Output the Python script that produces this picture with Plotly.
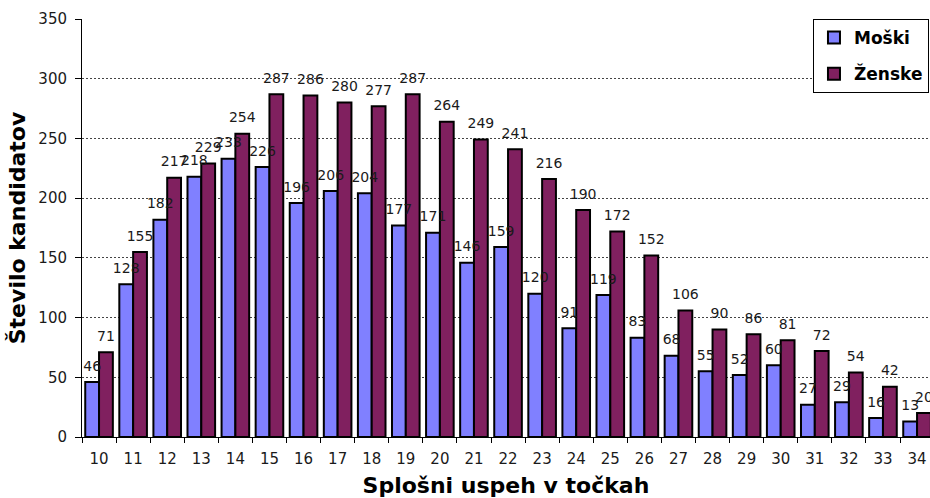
import plotly.graph_objects as go

categories = ["10", "11", "12", "13", "14", "15", "16", "17", "18", "19", "20", "21",
              "22", "23", "24", "25", "26", "27", "28", "29", "30", "31", "32", "33", "34"]
moski = [46, 128, 182, 218, 233, 226, 196, 206, 204, 177, 171, 146, 159, 120, 91,
         119, 83, 68, 55, 52, 60, 27, 29, 16, 13]
zenske = [71, 155, 217, 229, 254, 287, 286, 280, 277, 287, 264, 249, 241, 216, 190,
          172, 152, 106, 90, 86, 81, 72, 54, 42, 20]
y_ticks = [0, 50, 100, 150, 200, 250, 300, 350]

C_M = "#8080FF"
C_Z = "#80205F"
BARGAP = 0.19
TXT = "#1a1a1a"

fig = go.Figure()
for name, vals, col, grp in [("Moški", moski, C_M, "m"), ("Ženske", zenske, C_Z, "z")]:
    fig.add_trace(go.Bar(
        x=categories, y=vals, name=name, offsetgroup=grp, legendgroup=grp,
        marker=dict(color=col, line=dict(color="black", width=2)),
        hoverinfo="x+y+name",
    ))
for vals, grp in [(moski, "m"), (zenske, "z")]:
    fig.add_trace(go.Scatter(
        x=categories, y=vals, mode="markers+text", offsetgroup=grp,
        text=[str(v) for v in vals], textposition="top center",
        marker=dict(size=11, opacity=0), showlegend=False, cliponaxis=False,
        textfont=dict(family="DejaVu Sans", size=14, color=TXT),
        hoverinfo="skip",
    ))

fig.update_layout(
    width=930, height=498,
    margin=dict(l=82, r=0, t=19, b=61),
    paper_bgcolor="white", plot_bgcolor="white",
    barmode="group", bargap=BARGAP, bargroupgap=0,
    scattermode="group", scattergap=BARGAP,
    showlegend=True,
    legend=dict(
        x=0.862, y=1, xanchor="left", yanchor="top",
        bgcolor="white", bordercolor="black", borderwidth=1,
        font=dict(family="DejaVu Sans", size=17, color="black", weight="bold"),
        traceorder="grouped", tracegroupgap=11,
        itemwidth=30, entrywidth=82, entrywidthmode="pixels",
    ),
    xaxis=dict(
        type="category", range=[-0.5, 24.38],
        showline=True, linecolor="black", linewidth=1,
        ticks="outside", tickson="boundaries", ticklen=5, tickcolor="black",
        tickfont=dict(family="DejaVu Sans", size=15, color=TXT),
        ticklabelstandoff=8,
        showgrid=False,
        title=dict(text="Splošni uspeh v točkah", standoff=12,
                   font=dict(family="DejaVu Sans", size=22, color="black", weight="bold")),
    ),
    yaxis=dict(
        range=[0, 350], tickvals=y_ticks,
        showline=True, linecolor="black", linewidth=1,
        ticks="outside", ticklen=6, tickcolor="black",
        tickfont=dict(family="DejaVu Sans", size=15, color=TXT),
        ticklabelstandoff=5,
        showgrid=True, gridcolor="#444444", griddash="2px,2px", gridwidth=1,
        zeroline=False,
        title=dict(text="Število kandidatov", standoff=6,
                   font=dict(family="DejaVu Sans", size=22, color="black", weight="bold")),
    ),
)

fig.write_html("out.html", config={"displayModeBar": False},
               post_script="document.body.style.margin='0px';")
